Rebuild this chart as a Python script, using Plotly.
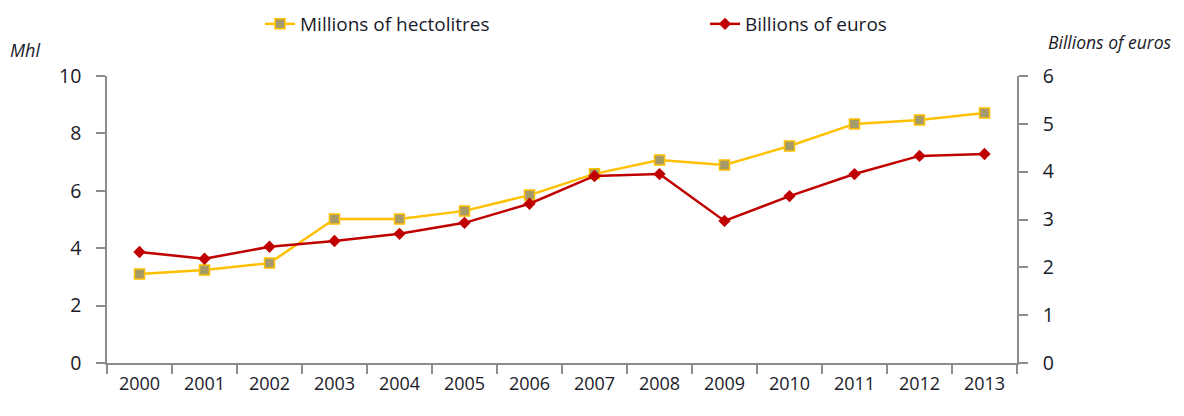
import plotly.graph_objects as go

years = [str(y) for y in range(2000, 2014)]
volume_mhl = [3.10, 3.24, 3.48, 5.02, 5.02, 5.30, 5.85, 6.59, 7.07, 6.90, 7.56, 8.33, 8.47, 8.71]
value_beur = [2.32, 2.18, 2.43, 2.55, 2.70, 2.93, 3.33, 3.91, 3.95, 2.97, 3.49, 3.95, 4.33, 4.37]
left_ticks = [0, 2, 4, 6, 8, 10]
right_ticks = [0, 1, 2, 3, 4, 5, 6]

FONT = "Open Sans"
TXT = "#1a1a2a"
fig = go.Figure()
fig.add_trace(go.Scatter(
    x=years, y=volume_mhl, name="Millions of hectolitres", mode="lines+markers", legend="legend",
    line=dict(color="#FFC000", width=2.5),
    marker=dict(symbol="square", size=10, color="#A59B6A", line=dict(color="#FFC000", width=1.5)),
))
fig.add_trace(go.Scatter(
    x=years, y=value_beur, name="Billions of euros", mode="lines+markers", yaxis="y2", legend="legend2",
    line=dict(color="#C00000", width=2.5),
    marker=dict(symbol="diamond", size=9.5, color="#C00000"),
))

axis_common = dict(showgrid=False, zeroline=False, showline=True, linecolor="#8C8C8C", linewidth=1.5,
                   ticks="outside", tickcolor="#8C8C8C", ticklen=9, tickwidth=1.5,
                   tickfont=dict(family=FONT, size=19.5, color=TXT))

# page body has an 8px default margin, so the figure is offset by 8px
W, H = 1176, 408
PL, PT, PW, PH = 99, 68, 910, 287

legend_common = dict(orientation="h", xanchor="left", yref="paper", y=1 + (PT + 3) / PH, yanchor="top",
                     font=dict(family=FONT, size=19, color=TXT), itemwidth=30, bgcolor="rgba(0,0,0,0)")

fig.update_layout(
    width=W, height=H,
    margin=dict(l=PL, r=W - PL - PW, t=PT, b=H - PT - PH, autoexpand=False),
    paper_bgcolor="white", plot_bgcolor="white",
    font=dict(family=FONT),
    xaxis=dict(**{**axis_common, "tickfont": dict(family=FONT, size=18, color=TXT)},
               type="category", tickson="boundaries", range=[-0.5, 13.5], ticklabelstandoff=4),
    yaxis=dict(**axis_common, range=[0, 10], tickvals=left_ticks, ticklabelstandoff=11),
    yaxis2=dict(**axis_common, range=[0, 6], tickvals=right_ticks, overlaying="y", side="right",
                ticklabelstandoff=11),
    legend=dict(**legend_common, x=(252 - PL) / PW),
    legend2=dict(**legend_common, x=(697 - PL) / PW),
    showlegend=True,
    annotations=[
        dict(text="<i>Mhl</i>", xref="paper", yref="paper", x=-99/PW, y=1 + 26/PH,
             xanchor="left", yanchor="middle", showarrow=False, font=dict(family=FONT, size=18, color=TXT)),
        dict(text="<i>Billions of euros</i>", xref="paper", yref="paper", x=1 + 29/PW, y=1 + 34/PH,
             xanchor="left", yanchor="middle", showarrow=False, font=dict(family=FONT, size=17.5, color=TXT)),
    ],
)

fig.write_html("out.html")
